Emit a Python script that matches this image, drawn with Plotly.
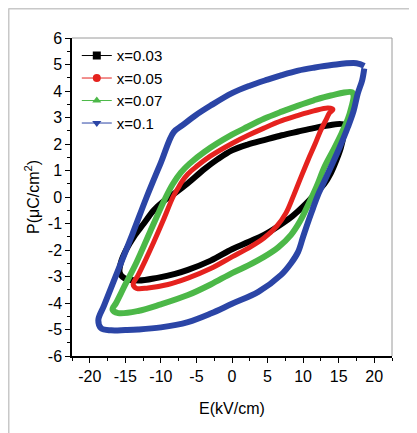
import plotly.graph_objects as go

# ---- data ----
series_names = ["x=0.03", "x=0.05", "x=0.07", "x=0.1"]
series_colors = ["#000000", "#e5221e", "#4cb848", "#2b45a6"]
legend_symbols = ["square", "circle", "triangle-up", "triangle-down"]

E_003 = [15.8, 13.5, 11.5, 9.3, 7.0, 4.5, 2.2, 0.0, -2.0, -3.9, -6.2, -8.0, -9.6, -11.0, -12.4, -13.8, -14.9, -15.6, -15.8, -15.2, -13.2, -10.5, -8.0, -6.2, -3.0, 0.0, 2.3, 4.5, 6.5, 8.5, 10.3, 11.8, 13.0, 13.9, 14.7, 15.3, 15.7, 15.8]
P_003 = [2.72, 2.7, 2.6, 2.47, 2.33, 2.15, 1.98, 1.76, 1.43, 1.05, 0.52, 0.15, -0.15, -0.5, -1.0, -1.5, -2.0, -2.45, -2.85, -3.05, -3.15, -3.05, -2.9, -2.75, -2.4, -1.97, -1.7, -1.43, -1.1, -0.72, -0.28, 0.15, 0.5, 0.9, 1.4, 1.85, 2.35, 2.72]

E_005 = [14.2, 13.5, 11.5, 9.3, 7.0, 4.5, 2.2, 0.0, -3.0, -5.0, -6.2, -7.0, -7.6, -8.3, -9.7, -11.0, -12.2, -13.2, -13.9, -13.4, -11.8, -9.0, -6.2, -3.0, 0.0, 2.3, 4.5, 6.3, 7.6, 8.7, 9.7, 10.7, 11.6, 12.5, 13.2, 13.7, 14.2]
P_005 = [3.3, 3.36, 3.25, 3.08, 2.88, 2.6, 2.32, 2.02, 1.55, 1.15, 0.87, 0.6, 0.33, 0.0, -0.9, -1.7, -2.4, -2.95, -3.3, -3.45, -3.43, -3.3, -3.06, -2.7, -2.26, -1.93, -1.55, -1.1, -0.6, 0.08, 0.75, 1.4, 1.95, 2.53, 2.9, 3.17, 3.3]

E_007 = [16.9, 13.9, 11.5, 9.3, 7.0, 4.5, 2.2, 0.0, -3.9, -6.0, -7.2, -8.3, -9.3, -11.5, -13.4, -15.0, -16.3, -16.8, -16.0, -13.2, -10.0, -6.2, -3.0, 0.0, 2.3, 4.5, 6.5, 8.3, 9.6, 10.7, 11.9, 13.0, 14.2, 15.4, 16.3, 16.8, 17.1, 16.9]
P_007 = [3.95, 3.83, 3.65, 3.45, 3.22, 2.95, 2.65, 2.35, 1.7, 1.25, 0.92, 0.5, 0.0, -1.3, -2.45, -3.3, -4.0, -4.25, -4.38, -4.3, -4.05, -3.7, -3.3, -2.87, -2.58, -2.26, -1.9, -1.43, -0.9, -0.3, 0.4, 1.13, 1.75, 2.4, 2.95, 3.4, 3.8, 3.95]

E_010 = [18.6, 17.5, 14.0, 11.5, 9.3, 7.0, 5.0, 2.5, 0.0, -3.0, -5.3, -7.0, -8.2, -10.0, -12.0, -14.0, -16.0, -18.0, -18.8, -18.4, -17.0, -15.0, -13.2, -10.0, -6.2, -3.0, 0.0, 3.7, 6.9, 8.3, 9.3, 10.0, 10.7, 11.4, 12.1, 13.0, 13.9, 15.1, 16.3, 17.1, 17.7, 18.3, 18.6]
P_010 = [4.95, 5.05, 4.98, 4.88, 4.77, 4.6, 4.43, 4.2, 3.92, 3.45, 3.05, 2.7, 2.45, 1.3, 0.0, -1.4, -2.75, -4.1, -4.65, -4.95, -5.03, -5.02, -5.0, -4.92, -4.72, -4.4, -4.03, -3.58, -2.94, -2.5, -2.07, -1.5, -0.94, -0.42, 0.08, 0.6, 1.13, 1.85, 2.64, 3.25, 3.92, 4.4, 4.85]

series_E = [E_003, E_005, E_007, E_010]
series_P = [P_003, P_005, P_007, P_010]
series_widths = [6, 5, 6, 6]

x_tick_vals = [-20, -15, -10, -5, 0, 5, 10, 15, 20]
x_tick_labels = ["-20", "-15", "-10", "-5", "0", "5", "10", "15", "20"]
y_tick_vals = [-6, -5, -4, -3, -2, -1, 0, 1, 2, 3, 4, 5, 6]
y_tick_labels = ["-6", "-5", "-4", "-3", "-2", "-1", "0", "1", "2", "3", "4", "5", "6"]

FONT = "Arial, Liberation Sans, sans-serif"

fig = go.Figure()

for E, P, c, w in zip(series_E, series_P, series_colors, series_widths):
    fig.add_trace(go.Scatter(
        x=E, y=P, mode="lines", showlegend=False,
        line=dict(color=c, width=w, shape="spline", smoothing=1.0),
        hoverinfo="skip",
    ))

for name, c, s in zip(series_names, series_colors, legend_symbols):
    fig.add_trace(go.Scatter(
        x=[None], y=[None], mode="lines+markers", name=name,
        line=dict(color=c, width=1),
        marker=dict(color=c, symbol=s, size=8),
    ))

# the page adds an 8px body margin, so the figure is 8px smaller and shifted
fig.update_layout(
    width=409, height=425,
    margin=dict(l=64, r=25, t=30, b=77, autoexpand=False),
    paper_bgcolor="white", plot_bgcolor="white",
    font=dict(family=FONT, size=16, color="black"),
    legend=dict(x=0.015, y=0.996, xanchor="left", yanchor="top",
                bgcolor="rgba(0,0,0,0)", font=dict(size=15),
                itemwidth=30, tracegroupgap=0),
    xaxis=dict(
        range=[-22.5, 22.5], tickmode="array", tickvals=x_tick_vals,
        ticktext=x_tick_labels, ticks="outside", ticklen=5, tickwidth=1,
        tickcolor="black", showline=True, linecolor="black", linewidth=1.5,
        showgrid=False, zeroline=False, automargin=False,
        minor=dict(tickmode="linear", tick0=0, dtick=2.5, ticks="outside",
                   ticklen=3, tickcolor="black", showgrid=False),
        title=dict(text="E(kV/cm)", font=dict(size=16), standoff=19),
    ),
    yaxis=dict(
        range=[-6, 6], tickmode="array", tickvals=y_tick_vals,
        ticktext=y_tick_labels, ticks="outside", ticklen=5, tickwidth=1,
        tickcolor="black", showline=True, linecolor="black", linewidth=1.5,
        showgrid=False, zeroline=False, automargin=False,
        minor=dict(tickmode="linear", tick0=0, dtick=0.5, ticks="outside",
                   ticklen=3, tickcolor="black", showgrid=False),
        title=dict(text="P(μC/cm<sup>2</sup>)", font=dict(size=16), standoff=4),
    ),
    shapes=[
        dict(type="line", xref="paper", yref="paper", x0=0, x1=1, y0=1, y1=1,
             line=dict(color="#9a9a9a", width=1)),
        dict(type="line", xref="paper", yref="paper", x0=1, x1=1, y0=0, y1=1,
             line=dict(color="#9a9a9a", width=1)),
        dict(type="line", xref="paper", yref="paper", x0=-0.1984, x1=-0.1984,
             y0=1.093, y1=-0.25, line=dict(color="#c8c8c8", width=2)),
        dict(type="line", xref="paper", yref="paper", x0=-0.1984, x1=1.1,
             y0=1.093, y1=1.093, line=dict(color="#c8c8c8", width=2)),
    ],
)

fig.write_html("out.html")
